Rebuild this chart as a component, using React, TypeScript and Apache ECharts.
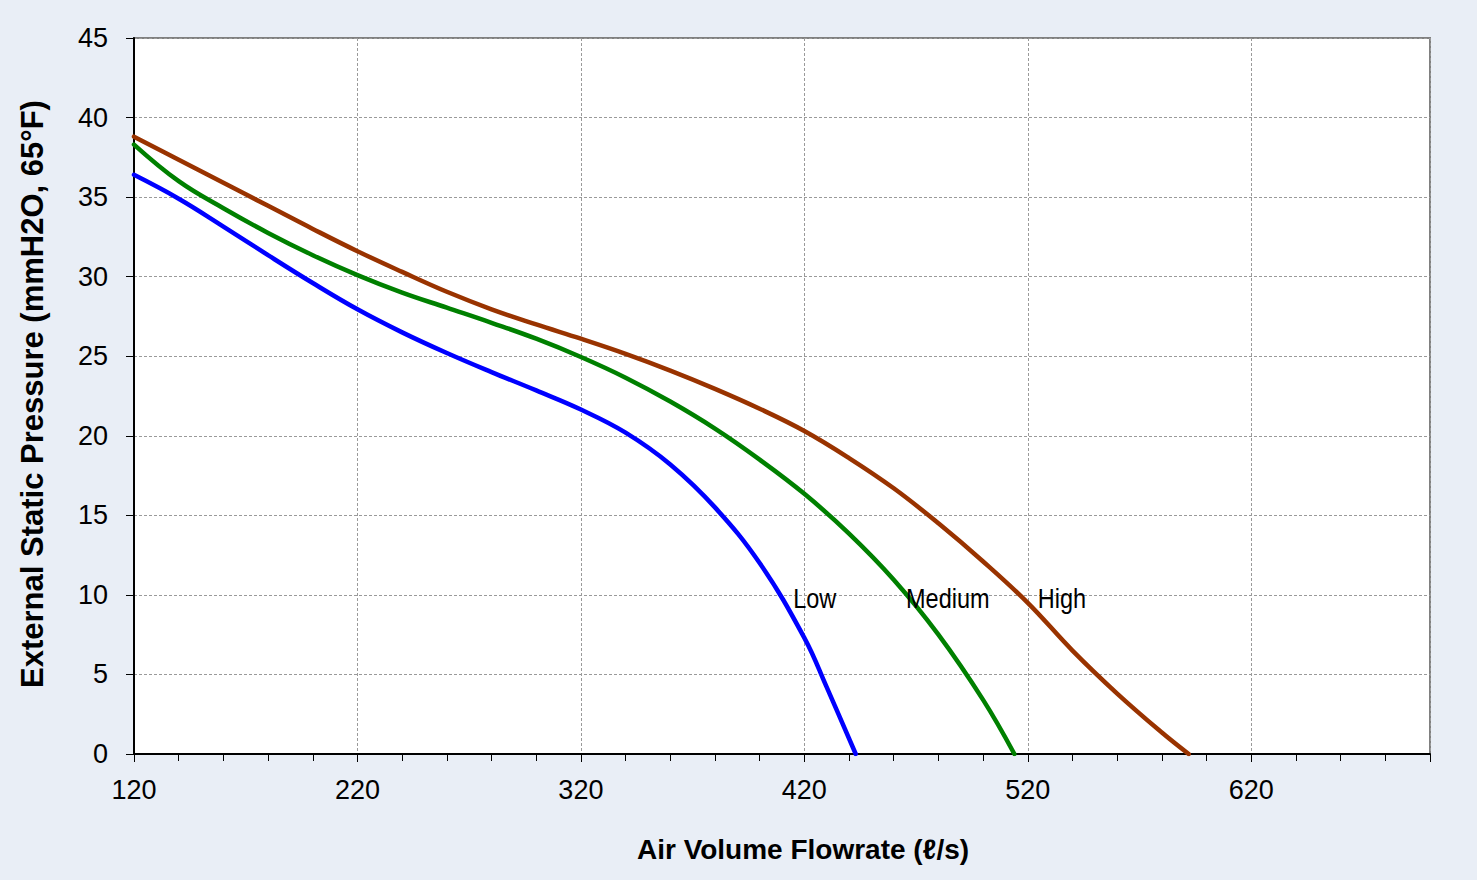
import React, { useEffect, useRef } from "react";
import * as echarts from "echarts";

// Air volume flowrate (l/s) and external static pressure (mmH2O) per fan speed
const lowFlow = [120, 140, 160, 180, 200, 220, 240, 260, 280, 300, 320, 340, 360, 380, 400, 420, 430, 443];
const lowPressure = [36.4, 34.9, 33.15, 31.35, 29.6, 27.95, 26.5, 25.2, 24.0, 22.85, 21.65, 20.2, 18.2, 15.5, 12.0, 7.3, 4.2, 0];

const mediumFlow = [120, 140, 160, 180, 200, 220, 240, 260, 280, 300, 320, 340, 360, 380, 400, 420, 440, 460, 480, 500, 514];
const mediumPressure = [38.3, 36.0, 34.3, 32.75, 31.35, 30.1, 29.0, 28.05, 27.1, 26.1, 24.95, 23.65, 22.15, 20.45, 18.5, 16.35, 13.85, 10.95, 7.5, 3.4, 0];

const highFlow = [120, 140, 160, 180, 200, 220, 240, 260, 280, 300, 320, 340, 360, 380, 400, 420, 440, 460, 480, 500, 520, 540, 560, 580, 592];
const highPressure = [38.8, 37.35, 35.9, 34.45, 33.0, 31.6, 30.3, 29.05, 27.95, 27.0, 26.1, 25.15, 24.1, 22.95, 21.7, 20.3, 18.6, 16.7, 14.5, 12.1, 9.5, 6.5, 3.8, 1.35, 0];

const curveNames = ["Low", "Medium", "High"];
const curveColors = ["#0000FF", "#008000", "#993300"];
const curveLabelFlow = [415, 465.5, 524.5];
const curveLabelPressure = [9.8, 9.8, 9.8];

const xTickLabels = [120, 220, 320, 420, 520, 620];
const xTitle = "Air Volume Flowrate (ℓ/s)";
const yTitle = "External Static Pressure (mmH2O, 65°F)";

const FONT = "'Liberation Sans', Arial, Helvetica, sans-serif";

export default function App() {
  const ref = useRef<HTMLDivElement>(null);
  useEffect(() => {
    if (!ref.current) return;
    const chart = echarts.init(ref.current, null, { renderer: "svg" });
    const pairs = (xs: number[], ys: number[]) => xs.map((x, i) => [x, ys[i]]);
    const gridLine = { show: true, lineStyle: { color: "#9a9a9a", width: 1, type: [3, 2] } };
    const curves = [
      pairs(lowFlow, lowPressure),
      pairs(mediumFlow, mediumPressure),
      pairs(highFlow, highPressure),
    ];
    chart.setOption({
      animation: false,
      backgroundColor: "#E9EEF6",
      textStyle: { fontFamily: FONT },
      grid: {
        left: 134,
        right: 47,
        top: 38,
        bottom: 126,
        show: true,
        backgroundColor: "#ffffff",
        borderColor: "#808080",
        borderWidth: 2,
      },
      xAxis: [
        {
          type: "value",
          position: "bottom",
          min: 120,
          max: 700,
          interval: 100,
          axisLine: { show: true, onZero: false, lineStyle: { color: "#000", width: 2 } },
          axisTick: { show: true, length: 8, lineStyle: { color: "#000", width: 1 } },
          axisLabel: {
            fontSize: 27,
            color: "#000",
            fontFamily: FONT,
            margin: 22,
            formatter: (v: number) => (xTickLabels.includes(v) ? String(v) : ""),
          },
          splitLine: gridLine,
        },
        {
          type: "value",
          position: "bottom",
          min: 120,
          max: 700,
          interval: 20,
          axisLine: { show: false, onZero: false },
          axisTick: { show: true, length: 7, lineStyle: { color: "#000", width: 1 } },
          axisLabel: { show: false },
          splitLine: { show: false },
        },
      ],
      yAxis: {
        type: "value",
        min: 0,
        max: 45,
        interval: 5,
        axisLine: { show: true, lineStyle: { color: "#000", width: 2 } },
        axisTick: { show: true, length: 8, lineStyle: { color: "#000", width: 1 } },
        axisLabel: { fontSize: 27, color: "#000", fontFamily: FONT, margin: 26 },
        splitLine: gridLine,
      },
      series: curves.map((data, i) => ({
        name: curveNames[i],
        type: "line",
        xAxisIndex: 0,
        data,
        smooth: 0.4,
        showSymbol: false,
        symbol: "none",
        silent: true,
        lineStyle: { color: curveColors[i], width: 4.5, cap: "round" },
        itemStyle: { color: curveColors[i] },
        z: 3 + i,
      })),
    });

    const labelGraphics = curveNames.map((n, i) => {
      const [px, py] = chart.convertToPixel({ xAxisIndex: 0, yAxisIndex: 0 }, [
        curveLabelFlow[i],
        curveLabelPressure[i],
      ]) as number[];
      return {
        type: "text",
        id: "curve-label-" + i,
        x: px,
        y: py,
        scaleX: 0.84,
        silent: true,
        z: 20,
        style: {
          text: n,
          fontSize: 28,
          fontFamily: FONT,
          fill: "#000",
          align: "left",
          verticalAlign: "middle",
        },
      };
    });

    chart.setOption({
      graphic: [
        {
          type: "text",
          id: "x-title",
          x: 803,
          y: 849,
          silent: true,
          style: {
            text: xTitle,
            fontSize: 28,
            fontWeight: "bold",
            fontFamily: FONT,
            fill: "#000",
            align: "center",
            verticalAlign: "middle",
          },
        },
        {
          type: "text",
          id: "y-title",
          x: 32,
          y: 394,
          rotation: Math.PI / 2,
          silent: true,
          style: {
            text: yTitle,
            fontSize: 31,
            fontWeight: "bold",
            fontFamily: FONT,
            fill: "#000",
            align: "center",
            verticalAlign: "middle",
          },
        },
        ...labelGraphics,
      ],
    });
    return () => chart.dispose();
  }, []);
  return <div ref={ref} style={{ position: "absolute", left: 0, top: 0, width: 1477, height: 880 }} />;
}
